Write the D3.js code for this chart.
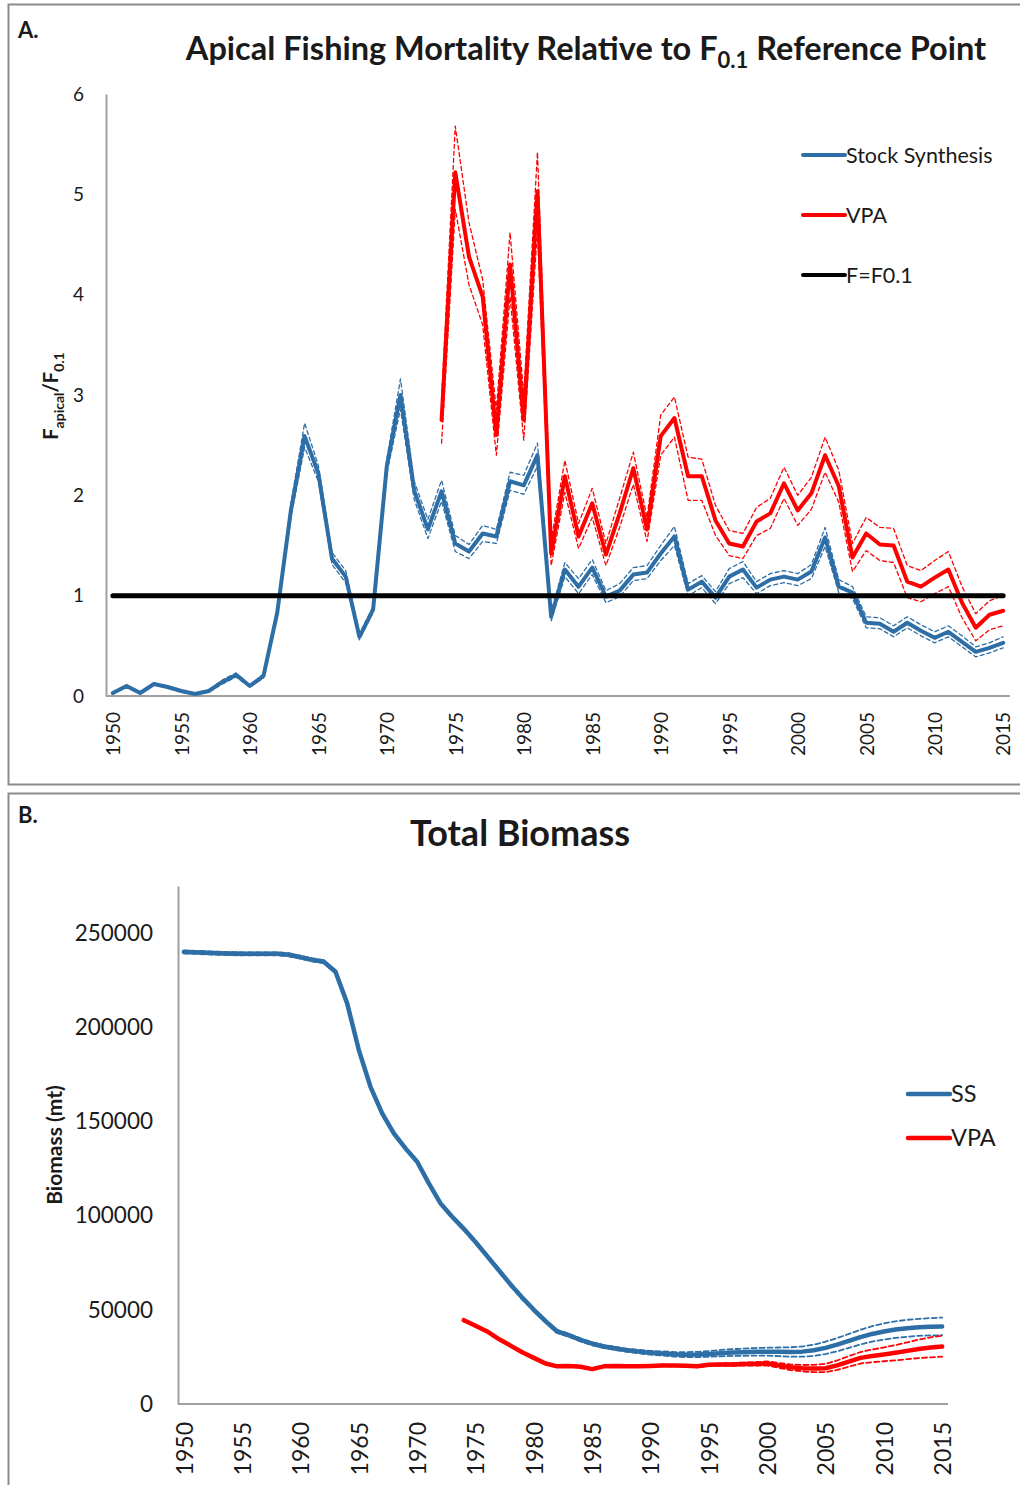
<!DOCTYPE html>
<html>
<head>
<meta charset="utf-8">
<script src="https://cdn.jsdelivr.net/npm/d3@7"></script>
<style>
  body { margin: 0; background: #fff; }
  text { font-family: Lato, "Open Sans", sans-serif; fill: #1a1a1a; }
</style>
</head>
<body>
<div id="chart"></div>
<script>
// years shared by both panels
const years = d3.range(1950, 2016);
const vpaYears = d3.range(1974, 2016);
const yearTicks = d3.range(1950, 2016, 5);

// Panel A: F apical / F0.1
const ssF = [0.03,0.10,0.03,0.12,0.09,0.05,0.02,0.05,0.14,0.21,
  0.10,0.20,0.83,1.85,2.59,2.22,1.37,1.19,0.59,0.86,
  2.29,3.00,2.05,1.66,2.04,1.52,1.44,1.62,1.59,2.14,
  2.10,2.40,0.79,1.26,1.09,1.28,0.99,1.05,1.21,1.23,
  1.42,1.59,1.06,1.14,0.98,1.19,1.26,1.08,1.16,1.19,
  1.16,1.24,1.58,1.09,1.03,0.73,0.72,0.64,0.73,0.65,
  0.58,0.64,0.54,0.44,0.48,0.53];
const ssFUp = [0.04,0.11,0.04,0.13,0.10,0.06,0.03,0.06,0.16,0.23,
  0.11,0.22,0.86,1.92,2.72,2.30,1.43,1.25,0.62,0.89,
  2.36,3.16,2.14,1.76,2.15,1.60,1.51,1.70,1.66,2.23,
  2.20,2.52,0.84,1.33,1.17,1.36,1.05,1.12,1.28,1.30,
  1.50,1.69,1.12,1.20,1.04,1.27,1.34,1.14,1.22,1.25,
  1.22,1.31,1.68,1.16,1.09,0.79,0.78,0.70,0.79,0.71,
  0.64,0.70,0.60,0.49,0.53,0.59];
const ssFLo = [0.02,0.09,0.02,0.11,0.08,0.04,0.01,0.04,0.12,0.19,
  0.09,0.18,0.80,1.78,2.48,2.14,1.31,1.13,0.56,0.83,
  2.22,2.86,1.96,1.57,1.94,1.44,1.37,1.54,1.52,2.05,
  2.01,2.29,0.75,1.19,1.02,1.21,0.93,0.99,1.15,1.17,
  1.35,1.50,1.00,1.08,0.92,1.12,1.18,1.02,1.10,1.13,
  1.10,1.17,1.49,1.03,0.97,0.68,0.67,0.59,0.68,0.60,
  0.53,0.59,0.49,0.39,0.43,0.48];
const vpaF = [2.75,5.22,4.38,3.98,2.60,4.30,2.75,5.03,1.42,2.19,
  1.59,1.92,1.41,1.82,2.27,1.66,2.59,2.77,2.19,2.19,
  1.75,1.52,1.49,1.74,1.82,2.12,1.85,2.02,2.40,2.09,
  1.38,1.62,1.51,1.50,1.14,1.09,1.18,1.26,0.93,0.68,
  0.81,0.85];
const vpaFUp = [2.95,5.68,4.72,4.15,2.85,4.62,3.00,5.42,1.55,2.35,
  1.72,2.07,1.52,1.97,2.43,1.78,2.80,2.98,2.38,2.36,
  1.90,1.65,1.62,1.88,1.97,2.28,2.00,2.18,2.58,2.25,
  1.52,1.78,1.68,1.67,1.30,1.25,1.35,1.44,1.09,0.82,
  0.95,1.00];
const vpaFLo = [2.52,4.85,4.10,3.70,2.40,3.98,2.55,4.65,1.30,2.03,
  1.47,1.78,1.30,1.68,2.11,1.54,2.40,2.58,1.95,1.95,
  1.60,1.40,1.37,1.60,1.67,1.97,1.70,1.86,2.23,1.93,
  1.24,1.45,1.35,1.33,0.98,0.94,1.02,1.09,0.78,0.55,
  0.66,0.70];
const fRef = 1;
const fTicks = [0, 1, 2, 3, 4, 5, 6];

// Panel B: total biomass (mt)
const ssB = [240000,239800,239500,239300,239100,239000,239000,239000,239000,238500,
  237200,235800,234800,229500,212700,187900,168400,154300,143700,135700,
  128600,117100,106500,99400,93000,86000,78500,71000,63500,56500,
  50000,44000,38500,36500,34000,32000,30500,29500,28500,27800,
  27200,26800,26400,26200,26300,26600,27000,27300,27500,27700,
  27800,27700,27600,27800,28500,29800,31500,33500,35500,37200,
  38500,39500,40200,40700,41000,41200];
const ssBUp = [240800,240600,240300,240100,239900,239800,239800,239800,239800,239300,
  238000,236600,235600,230300,213500,188700,169200,155100,144500,136500,
  129400,117900,107300,100200,93800,86800,79300,71800,64300,57300,
  50800,44800,39300,37300,34800,32800,31300,30300,29300,28700,
  28200,27900,27600,27500,27700,28100,28700,29100,29400,29700,
  29900,30000,30100,30500,31500,33100,35000,37200,39400,41300,
  42800,43900,44700,45200,45600,45900];
const ssBLo = [239200,239000,238700,238500,238300,238200,238200,238200,238200,237700,
  236400,235000,234000,228700,211900,187100,167600,153500,142900,134900,
  127800,116300,105700,98600,92200,85200,77700,70200,62700,55700,
  49200,43200,37700,35700,33200,31200,29700,28700,27700,26900,
  26200,25700,25200,24900,24900,25100,25300,25500,25600,25700,
  25700,25400,25100,25100,25500,26500,28000,29800,31600,33100,
  34200,35100,35700,36200,36400,36500];
const vpaB = [44500,41500,38500,34500,31000,27500,24500,21500,20000,20200,
  19800,18500,20000,20200,20000,20000,20200,20500,20400,20300,
  20000,20800,21000,21000,21200,21300,21500,20500,19500,19000,
  18800,19000,20500,22500,24500,25500,26300,27200,28200,29200,
  30000,30500];
const vpaBUp = [45000,41900,38900,34900,31400,27900,24900,21900,20400,20600,
  20200,18900,20400,20600,20400,20400,20600,20900,20800,20700,
  20500,21300,21600,21700,22000,22200,22600,21800,21000,20700,
  20800,21300,23100,25400,27600,28900,30000,31300,32700,34200,
  35400,36300];
const vpaBLo = [44000,41100,38100,34100,30600,27100,24100,21100,19600,19800,
  19400,18100,19600,19800,19600,19600,19800,20100,20000,19900,
  19500,20300,20400,20300,20400,20400,20400,19200,18000,17300,
  16900,16900,18100,19800,21500,22200,22700,23200,23800,24400,
  24800,25100];
const bTicks = [0, 50000, 100000, 150000, 200000, 250000];

const blue = "#2d6ea6";
const red = "#ff0000";
const axisGrey = "#a0a0a0";

const svg = d3.select("#chart").append("svg")
    .attr("width", 1020)
    .attr("height", 1485);

// panel frames
svg.append("rect").attr("x", 8.5).attr("y", 4.5).attr("width", 1030).attr("height", 780)
    .attr("fill", "none").attr("stroke", "#8c8c8c").attr("stroke-width", 2);
svg.append("rect").attr("x", 8.5).attr("y", 793.5).attr("width", 1030).attr("height", 710)
    .attr("fill", "none").attr("stroke", "#8c8c8c").attr("stroke-width", 2);

function drawSeries(g, xs, ys, yrs, vals, color, width, dash) {
    const pts = yrs.map((yr, i) => [yr, vals[i]]);
    g.append("path")
        .datum(pts)
        .attr("fill", "none")
        .attr("stroke", color)
        .attr("stroke-width", width)
        .attr("stroke-linejoin", "round")
        .attr("stroke-linecap", "round")
        .attr("stroke-dasharray", dash || null)
        .attr("d", d3.line().x(d => xs(d[0])).y(d => ys(d[1])));
}

function styleAxis(g, fontSize) {
    g.select(".domain").attr("stroke", axisGrey).attr("stroke-width", 2);
    g.selectAll(".tick line").remove();
    g.selectAll(".tick text").attr("fill", "#1a1a1a").style("font-size", fontSize + "px")
        .style("font-family", "Lato, sans-serif");
}

// ---------- Panel A ----------
const xA = d3.scalePoint().domain(years).range([106, 1010]).padding(0.5);
const yA = d3.scaleLinear().domain([0, 6]).range([696, 94]);

const gA = svg.append("g");

const yAxisA = gA.append("g")
    .attr("transform", "translate(106,0)")
    .call(d3.axisLeft(yA).tickValues(fTicks).tickFormat(d3.format("d"))
        .tickSize(0).tickPadding(22).tickSizeOuter(0));
styleAxis(yAxisA, 19);

const xAxisA = gA.append("g")
    .attr("transform", "translate(0,696)")
    .call(d3.axisBottom(xA).tickValues(yearTicks).tickSize(0).tickSizeOuter(0));
styleAxis(xAxisA, 19);
xAxisA.select(".domain").attr("d", "M106,0H1010");
xAxisA.selectAll(".tick text")
    .attr("transform", "rotate(-90)")
    .attr("x", -16).attr("y", 0).attr("dy", "0.36em")
    .style("text-anchor", "end");

drawSeries(gA, xA, yA, years, ssFUp, blue, 1.3, "4,3");
drawSeries(gA, xA, yA, years, ssFLo, blue, 1.3, "4,3");
drawSeries(gA, xA, yA, years, ssF, blue, 4);
drawSeries(gA, xA, yA, vpaYears, vpaFUp, red, 1.3, "4,3");
drawSeries(gA, xA, yA, vpaYears, vpaFLo, red, 1.3, "4,3");
drawSeries(gA, xA, yA, vpaYears, vpaF, red, 4);
drawSeries(gA, xA, yA, years, years.map(() => fRef), "#000", 5);

gA.append("text").attr("x", 18).attr("y", 38)
    .style("font-size", "22px").style("font-weight", "bold").text("A.");

const titleA = gA.append("text").attr("x", 586).attr("y", 60)
    .style("text-anchor", "middle").style("font-size", "32.5px").style("font-weight", "bold");
titleA.append("tspan").text("Apical Fishing Mortality Relative to F");
titleA.append("tspan").attr("dy", 8).style("font-size", "22px").text("0.1");
titleA.append("tspan").attr("dy", -8).text(" Reference Point");

const yLabA = gA.append("text")
    .attr("transform", "translate(58,396) rotate(-90)")
    .style("text-anchor", "middle").style("font-size", "20px").style("font-weight", "bold");
yLabA.append("tspan").text("F");
yLabA.append("tspan").attr("dy", 6).style("font-size", "14px").text("apical");
yLabA.append("tspan").attr("dy", -6).text("/F");
yLabA.append("tspan").attr("dy", 6).style("font-size", "14px").text("0.1");

const legA = [
    { name: "Stock Synthesis", color: blue, y: 155 },
    { name: "VPA", color: red, y: 215 },
    { name: "F=F0.1", color: "#000", y: 275 }
];
const legAG = gA.append("g").selectAll("g").data(legA).enter().append("g")
    .attr("transform", d => `translate(0,${d.y})`);
legAG.append("line").attr("x1", 803).attr("x2", 845)
    .attr("stroke", d => d.color).attr("stroke-width", 4).attr("stroke-linecap", "round");
legAG.append("text").attr("x", 846).attr("dy", "0.35em")
    .style("font-size", "21.5px").text(d => d.name);

// ---------- Panel B ----------
const xB = d3.scalePoint().domain(years).range([178, 948]).padding(0.5);
const yB = d3.scaleLinear().domain([0, 275000]).range([1404, 886]);

const gB = svg.append("g");

const yAxisB = gB.append("g")
    .attr("transform", "translate(178,0)")
    .call(d3.axisLeft(yB).tickValues(bTicks).tickFormat(d3.format("d")).tickSize(0).tickPadding(25).tickSizeOuter(0));
styleAxis(yAxisB, 22.5);

const xAxisB = gB.append("g")
    .attr("transform", "translate(0,1404)")
    .call(d3.axisBottom(xB).tickValues(yearTicks).tickSize(0).tickSizeOuter(0));
styleAxis(xAxisB, 23);
xAxisB.select(".domain").attr("d", "M178,0H948");
xAxisB.selectAll(".tick text")
    .attr("transform", "rotate(-90)")
    .attr("x", -18).attr("y", 0).attr("dy", "0.36em")
    .style("text-anchor", "end");

drawSeries(gB, xB, yB, years, ssBUp, blue, 1.8, "5,3");
drawSeries(gB, xB, yB, years, ssBLo, blue, 1.8, "5,3");
drawSeries(gB, xB, yB, years, ssB, blue, 4.5);
drawSeries(gB, xB, yB, vpaYears, vpaBUp, red, 1.8, "5,3");
drawSeries(gB, xB, yB, vpaYears, vpaBLo, red, 1.8, "5,3");
drawSeries(gB, xB, yB, vpaYears, vpaB, red, 4.5);

gB.append("text").attr("x", 18).attr("y", 823)
    .style("font-size", "22px").style("font-weight", "bold").text("B.");

gB.append("text").attr("x", 520).attr("y", 846)
    .style("text-anchor", "middle").style("font-size", "36px").style("font-weight", "bold")
    .text("Total Biomass");

gB.append("text")
    .attr("transform", "translate(55,1145) rotate(-90)")
    .attr("dy", "0.35em")
    .style("text-anchor", "middle").style("font-size", "21px").style("font-weight", "bold")
    .text("Biomass (mt)");

const legB = [
    { name: "SS", color: blue, y: 1094 },
    { name: "VPA", color: red, y: 1138 }
];
const legBG = gB.append("g").selectAll("g").data(legB).enter().append("g")
    .attr("transform", d => `translate(0,${d.y})`);
legBG.append("line").attr("x1", 908).attr("x2", 950)
    .attr("stroke", d => d.color).attr("stroke-width", 4.5).attr("stroke-linecap", "round");
legBG.append("text").attr("x", 951).attr("dy", "0.35em")
    .style("font-size", "23.5px").text(d => d.name);
</script>
</body>
</html>
